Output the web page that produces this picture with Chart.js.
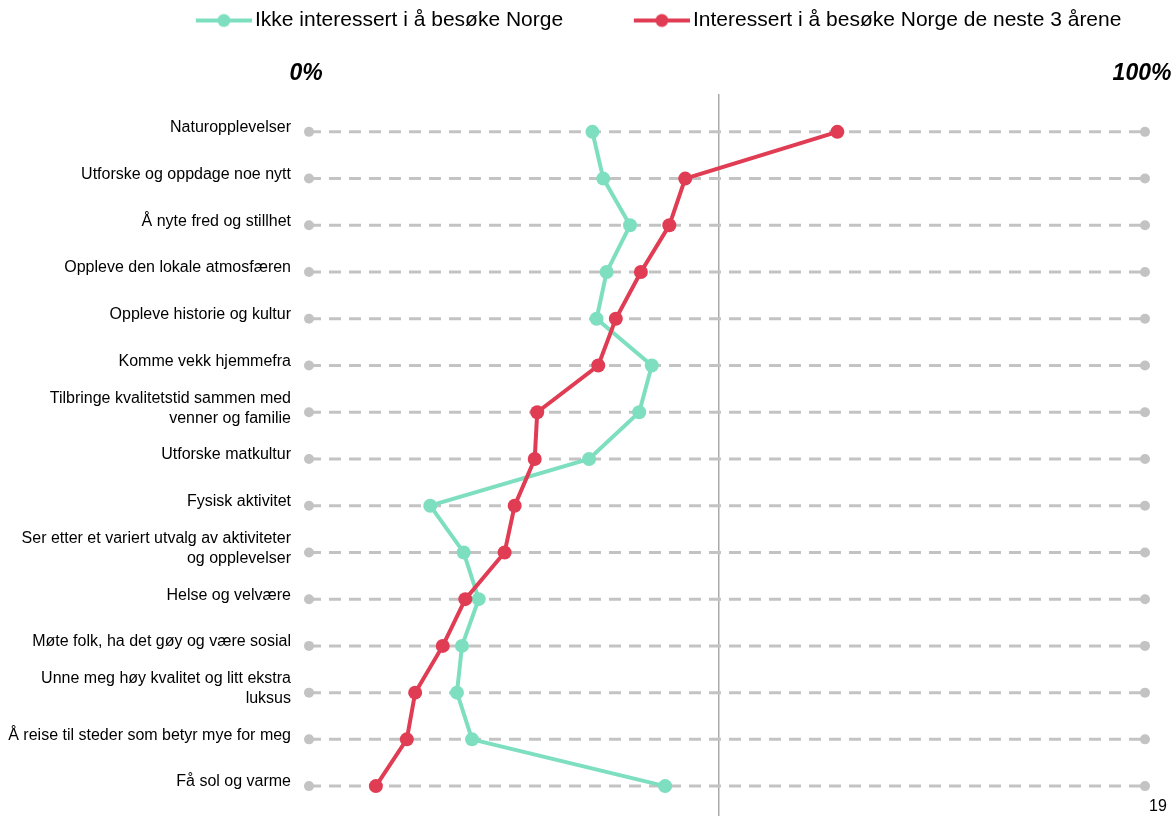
<!DOCTYPE html>
<html><head><meta charset="utf-8">
<script src="https://cdn.jsdelivr.net/npm/chart.js@4/dist/chart.umd.min.js"></script>
<style>
html,body{margin:0;padding:0;background:#fff;}
#wrap{position:relative;width:1176px;height:816px;overflow:hidden;}
#pg{position:absolute;left:1149px;top:797px;font:16px "Liberation Sans",Arial,sans-serif;color:#000;}
</style></head><body>
<div id="wrap"><canvas id="c" width="1176" height="816"></canvas><div id="pg">19</div></div>
<script>
const categories = [
  'Naturopplevelser',
  'Utforske og oppdage noe nytt',
  'Å nyte fred og stillhet',
  'Oppleve den lokale atmosfæren',
  'Oppleve historie og kultur',
  'Komme vekk hjemmefra',
  ['Tilbringe kvalitetstid sammen med', 'venner og familie'],
  'Utforske matkultur',
  'Fysisk aktivitet',
  ['Ser etter et variert utvalg av aktiviteter', 'og opplevelser'],
  'Helse og velvære',
  'Møte folk, ha det gøy og være sosial',
  ['Unne meg høy kvalitet og litt ekstra', 'luksus'],
  'Å reise til steder som betyr mye for meg',
  'Få sol og varme'
];
const notInterested = [33.9, 35.2, 38.4, 35.6, 34.4, 41.0, 39.5, 33.5, 14.5, 18.5, 20.3, 18.3, 17.7, 19.5, 42.6];
const interested    = [63.2, 45.0, 43.1, 39.7, 36.7, 34.6, 27.3, 27.0, 24.6, 23.4, 18.7, 16.0, 12.7, 11.7, 8.0];
const seriesNames = ['Ikke interessert i å besøke Norge', 'Interessert i å besøke Norge de neste 3 årene'];
const axisTicks = [0, 100];
const midLine = 49;

const FAMILY = '"Liberation Sans", Arial, sans-serif';
const TEAL = '#7ddfbf';
const RED = '#e03c53';
const GRAY = '#c3c3c3';
const LEG_SIZE = 21;

// legend geometry (positions only)
const mctx = document.createElement('canvas').getContext('2d');
mctx.font = LEG_SIZE + 'px ' + FAMILY;
const tw1 = mctx.measureText(seriesNames[0]).width;
const tw2 = mctx.measureText(seriesNames[1]).width;
const half = LEG_SIZE / 2;
const LPAD = 10;
const BOXW = 438 - half - LPAD - tw1;
const TEXT1_NATURAL = (1176 - LPAD - tw1 - tw2) / 2;
const LEG_SHIFT = 255 - TEXT1_NATURAL;

function legendIcon(color) {
  const W = Math.round(BOXW + 2 * half - 6), H = 16;
  const c = document.createElement('canvas');
  c.width = W; c.height = H;
  const g = c.getContext('2d');
  g.strokeStyle = color; g.lineWidth = 4;
  g.beginPath(); g.moveTo(W - 56, H / 2); g.lineTo(W, H / 2); g.stroke();
  g.fillStyle = color;
  g.beginPath(); g.arc(W - 28, H / 2, 6.5, 0, Math.PI * 2); g.fill();
  return c;
}
const iconTeal = legendIcon(TEAL);
const iconRed = legendIcon(RED);

const rowDatasets = categories.map((c, i) => ({
  label: '_row' + i,
  data: axisTicks.map(v => ({ x: v, y: i })),
  borderColor: GRAY, borderWidth: 3, borderDash: [12, 8],
  pointRadius: 5, pointHoverRadius: 5,
  pointBackgroundColor: GRAY, pointBorderWidth: 0,
  clip: false, order: 10
}));

const mainDatasets = [
  {
    label: seriesNames[1],
    data: interested.map((v, i) => ({ x: v, y: i })),
    borderColor: RED, backgroundColor: RED,
    pointBackgroundColor: RED, pointBorderWidth: 0,
    pointRadius: 7, pointHoverRadius: 7, borderWidth: 4,
    clip: false, order: 0
  },
  {
    label: seriesNames[0],
    data: notInterested.map((v, i) => ({ x: v, y: i })),
    borderColor: TEAL, backgroundColor: TEAL,
    pointBackgroundColor: TEAL, pointBorderWidth: 0,
    pointRadius: 7, pointHoverRadius: 7, borderWidth: 4,
    clip: false, order: 1
  }
];

const legendShift = {
  id: 'legendShift',
  afterLayout(chart) {
    const lg = chart.legend;
    if (lg) { lg.left += LEG_SHIFT; lg.right += LEG_SHIFT; }
  }
};

new Chart(document.getElementById('c'), {
  type: 'line',
  data: { datasets: [...mainDatasets, ...rowDatasets] },
  plugins: [legendShift],
  options: {
    responsive: false,
    animation: false,
    indexAxis: 'y',
    events: [],
    layout: { padding: 0, autoPadding: false },
    plugins: {
      tooltip: { enabled: false },
      legend: {
        position: 'top', align: 'center',
        labels: {
          usePointStyle: true, pointStyleWidth: BOXW, padding: LPAD, color: '#000',
          font: { family: FAMILY, size: LEG_SIZE },
          generateLabels: () => [
            { text: seriesNames[0], pointStyle: iconTeal, datasetIndex: 1, hidden: false, lineWidth: 0, fillStyle: TEAL, strokeStyle: TEAL, fontColor: '#000' },
            { text: seriesNames[1], pointStyle: iconRed, datasetIndex: 0, hidden: false, lineWidth: 0, fillStyle: RED, strokeStyle: RED, fontColor: '#000' }
          ]
        }
      }
    },
    scales: {
      x: {
        type: 'linear', position: 'top', min: 0, max: 100,
        afterBuildTicks: s => { s.ticks = [axisTicks[0], midLine, axisTicks[1]].map(v => ({ value: v })); },
        afterFit: s => { s.height = 53; s.paddingRight = 31; },
        ticks: {
          autoSkip: false, maxRotation: 0,
          callback: v => v === midLine ? '' : v + '%',
          color: '#000', padding: 7, labelOffset: -3,
          font: { family: FAMILY, size: 23, style: 'italic', weight: 'bold' }
        },
        grid: { drawTicks: false, color: '#aaaaaa', lineWidth: c => (c.tick && c.tick.value === midLine) ? 1.5 : 0 },
        border: { display: false }
      },
      y: {
        type: 'linear', reverse: true, min: -0.81, max: 14.64,
        afterBuildTicks: s => { s.ticks = categories.map((_, i) => ({ value: i })); },
        afterFit: s => { s.width = 309; s.paddingTop = 0; s.paddingBottom = 0; },
        ticks: {
          autoSkip: false, callback: (v, i) => categories[i], color: '#000',
          padding: 10, labelOffset: -4,
          font: { family: FAMILY, size: 16, lineHeight: 1.25 }
        },
        grid: { display: false },
        border: { display: false }
      }
    }
  }
});
</script>
</body></html>
